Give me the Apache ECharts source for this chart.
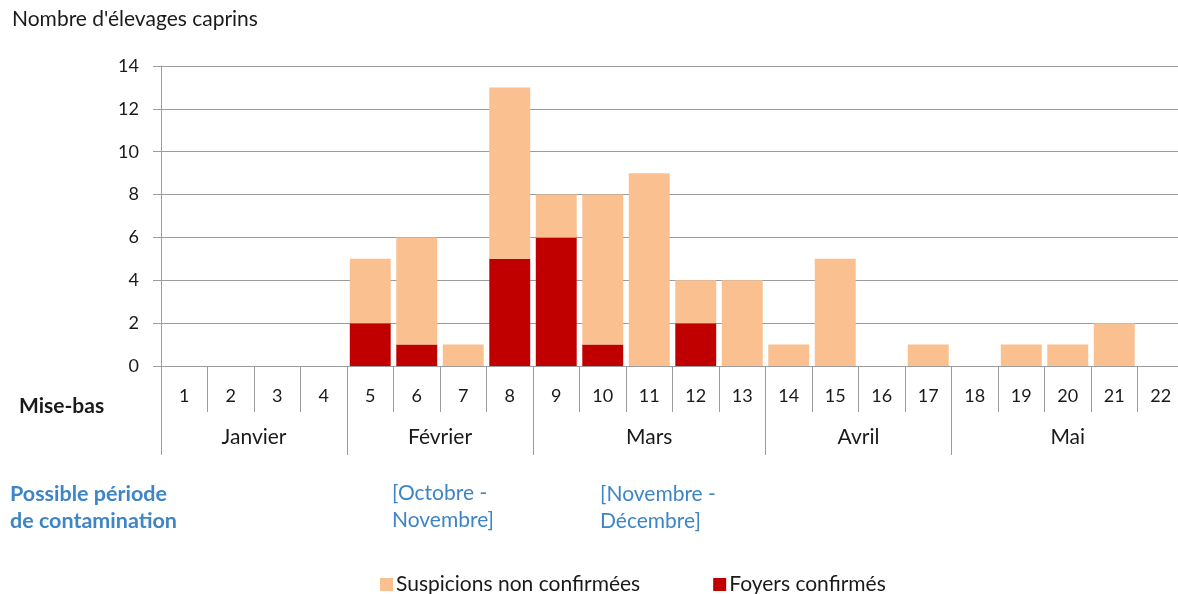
<!DOCTYPE html>
<html>
<head>
<meta charset="utf-8">
<script src="https://cdn.jsdelivr.net/npm/echarts@6/dist/echarts.min.js"></script>
<style>
html,body{margin:0;padding:0;background:#fff;}
#chart{width:1178px;height:594px;}
</style>
</head>
<body>
<div id="chart"></div>
<script>
const weeks = ['1','2','3','4','5','6','7','8','9','10','11','12','13','14','15','16','17','18','19','20','21','22'];
const confirmed = [0,0,0,0,2,1,0,5,6,1,0,2,0,0,0,0,0,0,0,0,0,0];
const suspicions = [0,0,0,0,3,5,1,8,2,7,9,2,4,1,5,0,1,0,1,1,2,0];
const months = ['Janvier','Février','Mars','Avril','Mai'];
const monthStartIdx = [0,4,8,13,17];
const monthCenters = [2,6,10.5,15,19.5];
const yTicks = [0,2,4,6,8,10,12,14];

const FONT = 'Lato';
const TXT = '#1a1a1a';
const GRID = '#9c9c9c';
const BLUE = '#3d85c6';

const chart = echarts.init(document.getElementById('chart'));
chart.setOption({
  animation: false,
  textStyle: {fontFamily: FONT},
  grid: {left: 161, top: 66, width: 1023, height: 300, containLabel: false, outerBoundsMode: 'none'},
  legend: {
    data: ['Suspicions non confirmées','Foyers confirmés'],
    left: 375, top: 569, itemWidth: 13, itemHeight: 13, itemGap: 73,
    icon: 'rect',
    textStyle: {fontFamily: FONT, fontSize: 21, color: TXT, padding: [0,0,0,-2]}
  },
  xAxis: [
    {
      type: 'category', data: weeks, position: 'bottom',
      axisLine: {show: true, lineStyle: {color: GRID, width: 1}},
      axisTick: {show: true, interval: 0, length: 46, lineStyle: {color: GRID}},
      axisLabel: {interval: 0, margin: 21, fontSize: 18, color: TXT, fontFamily: FONT},
      splitLine: {show: false}
    },
    {
      type: 'category', data: weeks, position: 'bottom', offset: 0,
      axisLine: {show: false},
      axisTick: {show: true, length: 89, lineStyle: {color: GRID},
        interval: function(i){ return monthStartIdx.indexOf(i) >= 0; }},
      axisLabel: {show: false},
      splitLine: {show: false}
    },
    {
      type: 'value', position: 'bottom', offset: 0, min: 0, max: 22, interval: 0.5,
      axisLine: {show: false}, axisTick: {show: false}, splitLine: {show: false},
      axisLabel: {
        margin: 61, fontSize: 21, color: TXT, fontFamily: FONT, showMinLabel: true, showMaxLabel: true,
        formatter: function(v){
          const k = monthCenters.indexOf(v);
          return k >= 0 ? months[k] : '';
        }
      }
    }
  ],
  yAxis: {
    type: 'value', min: 0, max: 14, interval: 2,
    axisLine: {show: true, lineStyle: {color: GRID}},
    axisTick: {show: true, inside: false, length: 8, lineStyle: {color: GRID}},
    axisLabel: {margin: 22, fontSize: 18, color: TXT, fontFamily: FONT,
      formatter: function(v){ return yTicks.indexOf(v) >= 0 ? String(v) : ''; }},
    splitLine: {show: true, lineStyle: {color: GRID, width: 1}}
  },
  series: [
    {
      name: 'Foyers confirmés', type: 'bar', stack: 'total', data: confirmed,
      xAxisIndex: 0, barCategoryGap: '12%',
      itemStyle: {color: '#c00000'}
    },
    {
      name: 'Suspicions non confirmées', type: 'bar', stack: 'total', data: suspicions,
      xAxisIndex: 0, barCategoryGap: '12%',
      itemStyle: {color: '#fac090'}
    }
  ],
  graphic: [
    {type: 'text', left: 12, top: 9, style: {text: "Nombre d'élevages caprins", font: '21px ' + FONT, fill: TXT}},
    {type: 'text', left: 19, top: 396, style: {text: 'Mise-bas', font: 'bold 21px ' + FONT, fill: TXT}},
    {type: 'text', left: 10, top: 481, style: {text: 'Possible période\nde contamination', font: 'bold 21.5px ' + FONT, fill: BLUE, lineHeight: 27}},
    {type: 'text', left: 392, top: 480, style: {text: '[Octobre -\nNovembre]', font: '21px ' + FONT, fill: BLUE, lineHeight: 27}},
    {type: 'text', left: 600, top: 481, style: {text: '[Novembre -\nDécembre]', font: '21px ' + FONT, fill: BLUE, lineHeight: 27}}
  ]
});
</script>
</body>
</html>
